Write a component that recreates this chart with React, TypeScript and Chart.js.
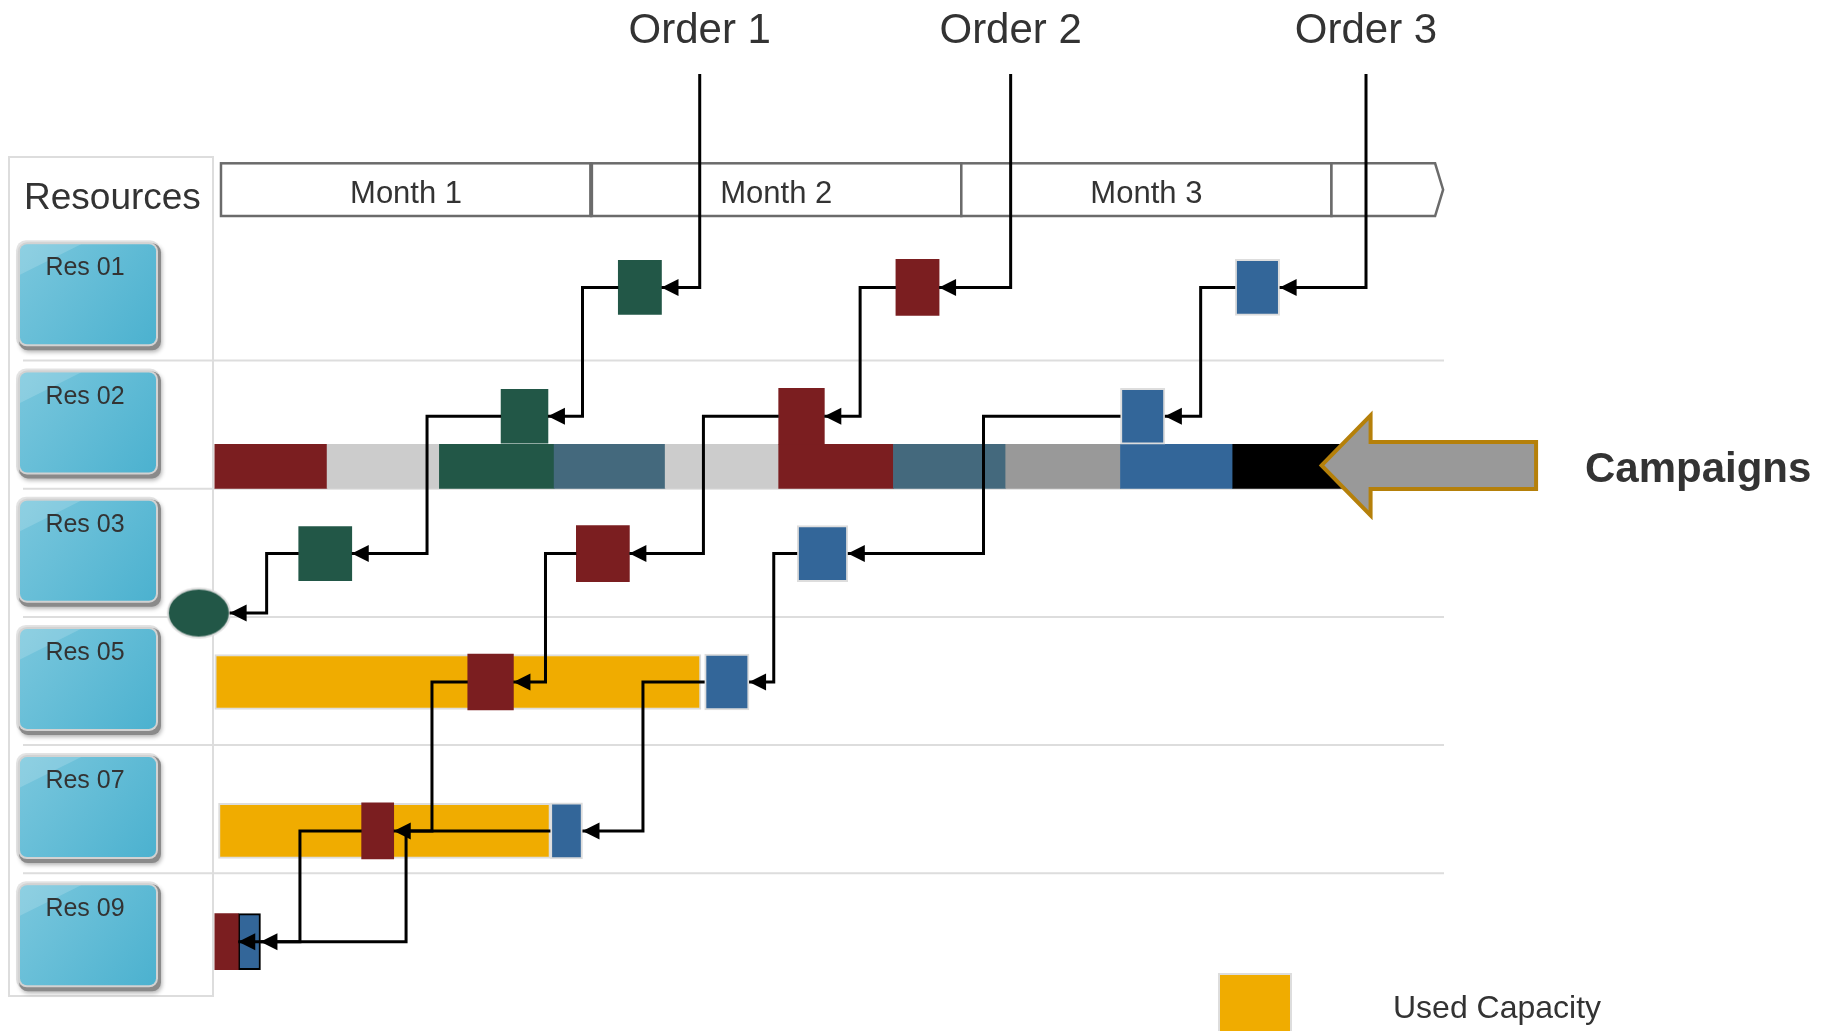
import React, { useEffect, useRef } from 'react';
import { Chart, registerables } from 'chart.js';

Chart.register(...registerables);

// ---------------- data (days on x, resource rows on y) ----------------
const resources = ['Res 01', 'Res 02', 'Res 03', 'Res 05', 'Res 07', 'Res 09'];
const months = ['Month 1', 'Month 2', 'Month 3'];
const monthEdges = [0, 30, 60, 90, 98.4];
const orders = ['Order 1', 'Order 2', 'Order 3'];
const orderRelease = [38.8, 64.0, 92.8];

const campaignEdges = [-0.5, 8.6, 17.7, 27.0, 36.0, 45.2, 54.5, 63.6, 72.9, 82.0, 91.0];
const campaignKinds = ['order2', 'idle', 'order1', 'changeover', 'idle', 'order2', 'changeover', 'setup', 'order3', 'blocked'];

const capacityRes = [3, 4];
const capacityStart = [-0.5, -0.2];
const capacityEnd = [38.9, 26.7];

const order1Res = [0, 1, 2];
const order1Start = [32.2, 22.7, 6.3];
const order1End = [35.7, 26.5, 10.6];
const order1Route = [29.3, 16.7, 3.7];

const order2Res = [0, 1, 2, 3, 4, 5];
const order2Start = [54.7, 45.2, 28.8, 20.0, 11.4, -0.5];
const order2End = [58.2, 48.9, 33.1, 23.7, 14.0, 1.4];
const order2Route = [51.8, 39.1, 26.3, 17.1, 6.4];

const order3Res = [0, 1, 2, 3, 4, 5];
const order3Start = [82.2, 72.9, 46.7, 39.2, 26.7, 1.4];
const order3End = [85.8, 76.5, 50.8, 42.8, 29.3, 3.2];
const order3Route = [79.4, 61.8, 44.8, 34.2, 15.0];

const endEventDay = -1.8;
const endEventRow = 2.97;

// ---------------- layout / style constants ----------------
const W = 1825;
const H = 1031;
const X_MIN = -17.91;
const X_MAX = 130;
const Y_MIN = -1.812;
const Y_MAX = 6.23;
const LANE = [0.43, 0.435, 0.506, 0.508, 0.669, 0.533];
const CAMPAIGN_ROW = 1;
const CAMPAIGN_LANE = 0.826;
const ORDER_LINE_TOP = -1.235;
const END_EVENT_HALF = 2.5;
const HEADER_TOP = 163.3;
const HEADER_BOTTOM = 216;
const HEADER_TIP = 0.65;
const FONT = "'Liberation Sans', Arial, sans-serif";
const TEXT = '#333333';

const RED = '#7b1e20';
const GREEN = '#225747';
const BLUE = '#336699';
const YELLOW = '#f0ac00';
const KIND_COLOR: Record<string, string> = {
  order1: GREEN,
  order2: RED,
  order3: BLUE,
  changeover: '#44697d',
  idle: '#cccccc',
  setup: '#999999',
  blocked: '#000000',
};

type P = { x: number; y: number };

function laneOf(r: number) {
  return r + LANE[r];
}

function buildPaths(res: number[], start: number[], end: number[], route: number[], release: number): P[][] {
  const lanes = res.map(laneOf);
  const paths: P[][] = [];
  paths.push([
    { x: release, y: ORDER_LINE_TOP },
    { x: release, y: lanes[0] },
    { x: end[0], y: lanes[0] },
  ]);
  for (let k = 0; k < res.length - 1; k++) {
    paths.push([
      { x: start[k], y: lanes[k] },
      { x: route[k], y: lanes[k] },
      { x: route[k], y: lanes[k + 1] },
      { x: end[k + 1], y: lanes[k + 1] },
    ]);
  }
  return paths;
}

const order1Paths = buildPaths(order1Res, order1Start, order1End, order1Route, orderRelease[0]);
{
  const last = order1Res.length - 1;
  const ly = laneOf(order1Res[last]);
  const rx = order1Route[last];
  order1Paths.push([
    { x: order1Start[last], y: ly },
    { x: rx, y: ly },
    { x: rx, y: endEventRow },
    { x: endEventDay + END_EVENT_HALF, y: endEventRow },
  ]);
}
const order2Paths = buildPaths(order2Res, order2Start, order2End, order2Route, orderRelease[1]);
const order3Paths = buildPaths(order3Res, order3Start, order3End, order3Route, orderRelease[2]);
const allPaths = [...order1Paths, ...order2Paths, ...order3Paths];

function rr(ctx: CanvasRenderingContext2D, x: number, y: number, w: number, h: number, r: number) {
  ctx.beginPath();
  ctx.moveTo(x + r, y);
  ctx.lineTo(x + w - r, y);
  ctx.arcTo(x + w, y, x + w, y + r, r);
  ctx.lineTo(x + w, y + h - r);
  ctx.arcTo(x + w, y + h, x + w - r, y + h, r);
  ctx.lineTo(x + r, y + h);
  ctx.arcTo(x, y + h, x, y + h - r, r);
  ctx.lineTo(x, y + r);
  ctx.arcTo(x, y, x + r, y, r);
  ctx.closePath();
}

function drawButton(ctx: CanvasRenderingContext2D, x: number, y: number, w: number, h: number, label: string) {
  ctx.save();
  rr(ctx, x - 3, y - 3, w + 6, h + 6, 10);
  ctx.fillStyle = '#e4e4e4';
  ctx.fill();
  ctx.shadowColor = 'rgba(0,0,0,0.3)';
  ctx.shadowBlur = 4;
  ctx.shadowOffsetX = 1;
  ctx.shadowOffsetY = 2;
  rr(ctx, x, y, w + 4, h + 5, 9);
  ctx.fillStyle = '#8a8a8a';
  ctx.fill();
  ctx.shadowColor = 'transparent';
  rr(ctx, x - 1, y - 1, w + 2, h + 2, 9);
  ctx.fillStyle = '#d2d2d2';
  ctx.fill();
  const g = ctx.createLinearGradient(x, y, x + w, y + h);
  g.addColorStop(0, '#7ac7dd');
  g.addColorStop(1, '#4bb1cf');
  rr(ctx, x + 1, y + 1, w - 2, h - 2, 7);
  ctx.fillStyle = g;
  ctx.fill();
  ctx.save();
  rr(ctx, x + 1, y + 1, w - 2, h - 2, 7);
  ctx.clip();
  ctx.beginPath();
  ctx.moveTo(x, y);
  ctx.lineTo(x + 64, y);
  ctx.lineTo(x, y + 32);
  ctx.closePath();
  ctx.fillStyle = 'rgba(255,255,255,0.16)';
  ctx.fill();
  ctx.restore();
  ctx.fillStyle = TEXT;
  ctx.font = `25px ${FONT}`;
  ctx.textAlign = 'center';
  ctx.textBaseline = 'alphabetic';
  ctx.fillText(label, x + 66, y + 32);
  ctx.restore();
}

const decorPlugin = {
  id: 'decor',
  beforeDraw(chart: any) {
    const ctx: CanvasRenderingContext2D = chart.ctx;
    ctx.save();
    ctx.fillStyle = '#ffffff';
    ctx.fillRect(0, 0, chart.width, chart.height);
    ctx.restore();
  },
  beforeDatasetsDraw(chart: any) {
    const ctx: CanvasRenderingContext2D = chart.ctx;
    const x = chart.scales.x;
    const y = chart.scales.y;
    ctx.save();
    // resource panel
    ctx.strokeStyle = '#dddddd';
    ctx.lineWidth = 2;
    ctx.strokeRect(9, 157, 204, 839);
    // row separators
    for (let i = 1; i < resources.length; i++) {
      const py = y.getPixelForValue(i);
      ctx.beginPath();
      ctx.moveTo(23, py);
      ctx.lineTo(1444, py);
      ctx.stroke();
    }
    // "Resources"
    ctx.fillStyle = TEXT;
    ctx.font = `37px ${FONT}`;
    ctx.textAlign = 'left';
    ctx.fillText('Resources', 24, 208.5);
    // header
    ctx.strokeStyle = '#6b6b6b';
    ctx.lineWidth = 2.5;
    ctx.fillStyle = '#ffffff';
    for (let i = 0; i < months.length; i++) {
      const x0 = x.getPixelForValue(monthEdges[i]);
      const x1 = x.getPixelForValue(monthEdges[i + 1]);
      ctx.fillRect(x0, HEADER_TOP, x1 - x0, HEADER_BOTTOM - HEADER_TOP);
      ctx.strokeRect(x0, HEADER_TOP, x1 - x0, HEADER_BOTTOM - HEADER_TOP);
    }
    {
      const x0 = x.getPixelForValue(monthEdges[3]);
      const x1 = x.getPixelForValue(monthEdges[4]);
      const xt = x.getPixelForValue(monthEdges[4] + HEADER_TIP);
      ctx.beginPath();
      ctx.moveTo(x0, HEADER_TOP);
      ctx.lineTo(x1, HEADER_TOP);
      ctx.lineTo(xt, (HEADER_TOP + HEADER_BOTTOM) / 2);
      ctx.lineTo(x1, HEADER_BOTTOM);
      ctx.lineTo(x0, HEADER_BOTTOM);
      ctx.closePath();
      ctx.fill();
      ctx.stroke();
    }
    // slightly heavier first divider, as in the source
    ctx.lineWidth = 4;
    ctx.beginPath();
    ctx.moveTo(x.getPixelForValue(monthEdges[1]), HEADER_TOP);
    ctx.lineTo(x.getPixelForValue(monthEdges[1]), HEADER_BOTTOM);
    ctx.stroke();
    ctx.fillStyle = TEXT;
    ctx.font = `31px ${FONT}`;
    ctx.textAlign = 'center';
    months.forEach((m, i) => {
      const cx = x.getPixelForValue((monthEdges[i] + monthEdges[i + 1]) / 2);
      ctx.fillText(m, cx, 202.5);
    });
    ctx.restore();
    // resource buttons
    resources.forEach((r, i) => {
      const top = y.getPixelForValue(i) + 11;
      drawButton(ctx, 19, top, 138, 102, r);
    });
  },
  afterDatasetsDraw(chart: any) {
    const ctx: CanvasRenderingContext2D = chart.ctx;
    const x = chart.scales.x;
    const y = chart.scales.y;
    ctx.save();
    // arrowheads
    ctx.fillStyle = '#000000';
    allPaths.forEach((path) => {
      const a = path[path.length - 2];
      const b = path[path.length - 1];
      const ax = x.getPixelForValue(a.x);
      const ay = y.getPixelForValue(a.y);
      const bx = x.getPixelForValue(b.x);
      const by = y.getPixelForValue(b.y);
      const dx = bx - ax;
      const dy = by - ay;
      const L = Math.hypot(dx, dy) || 1;
      const ux = dx / L;
      const uy = dy / L;
      const len = 17;
      const hw = 8.5;
      ctx.beginPath();
      ctx.moveTo(bx, by);
      ctx.lineTo(bx - ux * len - uy * hw, by - uy * len + ux * hw);
      ctx.lineTo(bx - ux * len + uy * hw, by - uy * len - ux * hw);
      ctx.closePath();
      ctx.fill();
    });
    // campaign arrow
    const tx = x.getPixelForValue(89.2);
    const ty = y.getPixelForValue(CAMPAIGN_ROW + CAMPAIGN_LANE) - 1;
    ctx.beginPath();
    ctx.moveTo(tx, ty);
    ctx.lineTo(tx + 49, ty - 50);
    ctx.lineTo(tx + 49, ty - 23.5);
    ctx.lineTo(tx + 214.5, ty - 23.5);
    ctx.lineTo(tx + 214.5, ty + 23.5);
    ctx.lineTo(tx + 49, ty + 23.5);
    ctx.lineTo(tx + 49, ty + 50);
    ctx.closePath();
    ctx.fillStyle = '#999999';
    ctx.fill();
    ctx.strokeStyle = '#b5800a';
    ctx.lineWidth = 4;
    ctx.lineJoin = 'miter';
    ctx.stroke();
    // texts
    ctx.fillStyle = TEXT;
    ctx.textAlign = 'center';
    ctx.font = `42px ${FONT}`;
    orders.forEach((o, i) => {
      ctx.fillText(o, x.getPixelForValue(orderRelease[i]), 43);
    });
    ctx.textAlign = 'left';
    ctx.font = `bold 42px ${FONT}`;
    ctx.fillText('Campaigns', 1585, 482);
    // legend
    ctx.fillStyle = YELLOW;
    ctx.fillRect(1219, 974, 72, 70);
    ctx.strokeStyle = '#dddddd';
    ctx.lineWidth = 2;
    ctx.strokeRect(1219, 974, 72, 70);
    ctx.fillStyle = TEXT;
    ctx.font = `32px ${FONT}`;
    ctx.fillText('Used Capacity', 1393, 1018);
    ctx.restore();
  },
};

export default function App() {
  const ref = useRef<HTMLCanvasElement>(null);
  useEffect(() => {
    document.body.style.margin = '0';
    const canvas = ref.current;
    if (!canvas) return;

    const ev = document.createElement('canvas');
    ev.width = 66;
    ev.height = 53;
    const ec = ev.getContext('2d')!;
    ec.beginPath();
    ec.ellipse(33, 26.5, 31, 24.5, 0, 0, Math.PI * 2);
    ec.fillStyle = GREEN;
    ec.fill();
    ec.strokeStyle = '#dddddd';
    ec.lineWidth = 2;
    ec.stroke();

    const campaignData = campaignKinds.map((k, i) => ({
      x: [campaignEdges[i], campaignEdges[i + 1]],
      y: CAMPAIGN_ROW + CAMPAIGN_LANE,
    }));
    const capacityData = capacityRes.map((r, i) => ({ x: [capacityStart[i], capacityEnd[i]], y: laneOf(r) }));
    const opData = (res: number[], s: number[], e: number[]) =>
      res.map((r, i) => ({ x: [s[i], e[i]], y: laneOf(r) }));

    const barBase = { type: 'bar', grouped: false, borderSkipped: false, clip: false };

    const lineSets = allPaths.map((p) => ({
      type: 'line',
      data: p,
      borderColor: '#000000',
      borderWidth: 3,
      pointRadius: 0,
      pointHoverRadius: 0,
      tension: 0,
      fill: false,
      borderJoinStyle: 'miter',
      clip: false,
      order: 0,
    }));

    const chart = new Chart(canvas, {
      type: 'bar',
      data: {
        datasets: [
          ...lineSets,
          {
            type: 'scatter',
            label: 'End',
            data: [{ x: endEventDay, y: endEventRow }],
            pointStyle: ev,
            pointRadius: 25,
            pointHoverRadius: 25,
            clip: false,
            order: 1,
          },
          {
            ...barBase,
            label: orders[0],
            data: opData(order1Res, order1Start, order1End),
            backgroundColor: GREEN,
            borderWidth: 0,
            barThickness: 54,
            order: 2,
          },
          {
            ...barBase,
            label: orders[1],
            data: opData(order2Res, order2Start, order2End),
            backgroundColor: RED,
            borderWidth: 0,
            barThickness: 56,
            order: 2,
          },
          {
            ...barBase,
            label: orders[2],
            data: opData(order3Res, order3Start, order3End),
            backgroundColor: BLUE,
            borderColor: order3Res.map((r) => (r === 5 ? '#000000' : '#dddddd')),
            borderWidth: 2,
            barThickness: 56,
            order: 2,
          },
          {
            ...barBase,
            label: 'Used Capacity',
            data: capacityData,
            backgroundColor: YELLOW,
            borderColor: '#dddddd',
            borderWidth: 2,
            barThickness: 55,
            order: 3,
          },
          {
            ...barBase,
            label: 'Campaigns',
            data: campaignData,
            backgroundColor: campaignKinds.map((k) => KIND_COLOR[k]),
            borderWidth: 0,
            barThickness: 44,
            order: 4,
          },
        ] as any,
      },
      options: {
        indexAxis: 'y',
        responsive: false,
        maintainAspectRatio: false,
        animation: false,
        devicePixelRatio: 1,
        events: [],
        layout: { padding: 0, autoPadding: false },
        plugins: { legend: { display: false }, tooltip: { enabled: false } },
        scales: {
          x: { type: 'linear', min: X_MIN, max: X_MAX, display: false, offset: false, grid: { display: false } },
          y: { type: 'linear', min: Y_MIN, max: Y_MAX, reverse: true, display: false, offset: false, grid: { display: false } },
        },
      } as any,
      plugins: [decorPlugin as any],
    });
    return () => chart.destroy();
  }, []);

  return (
    <div style={{ width: W, height: H, position: 'relative', overflow: 'hidden' }}>
      <canvas ref={ref} width={W} height={H} style={{ display: 'block', width: W, height: H }} />
    </div>
  );
}
